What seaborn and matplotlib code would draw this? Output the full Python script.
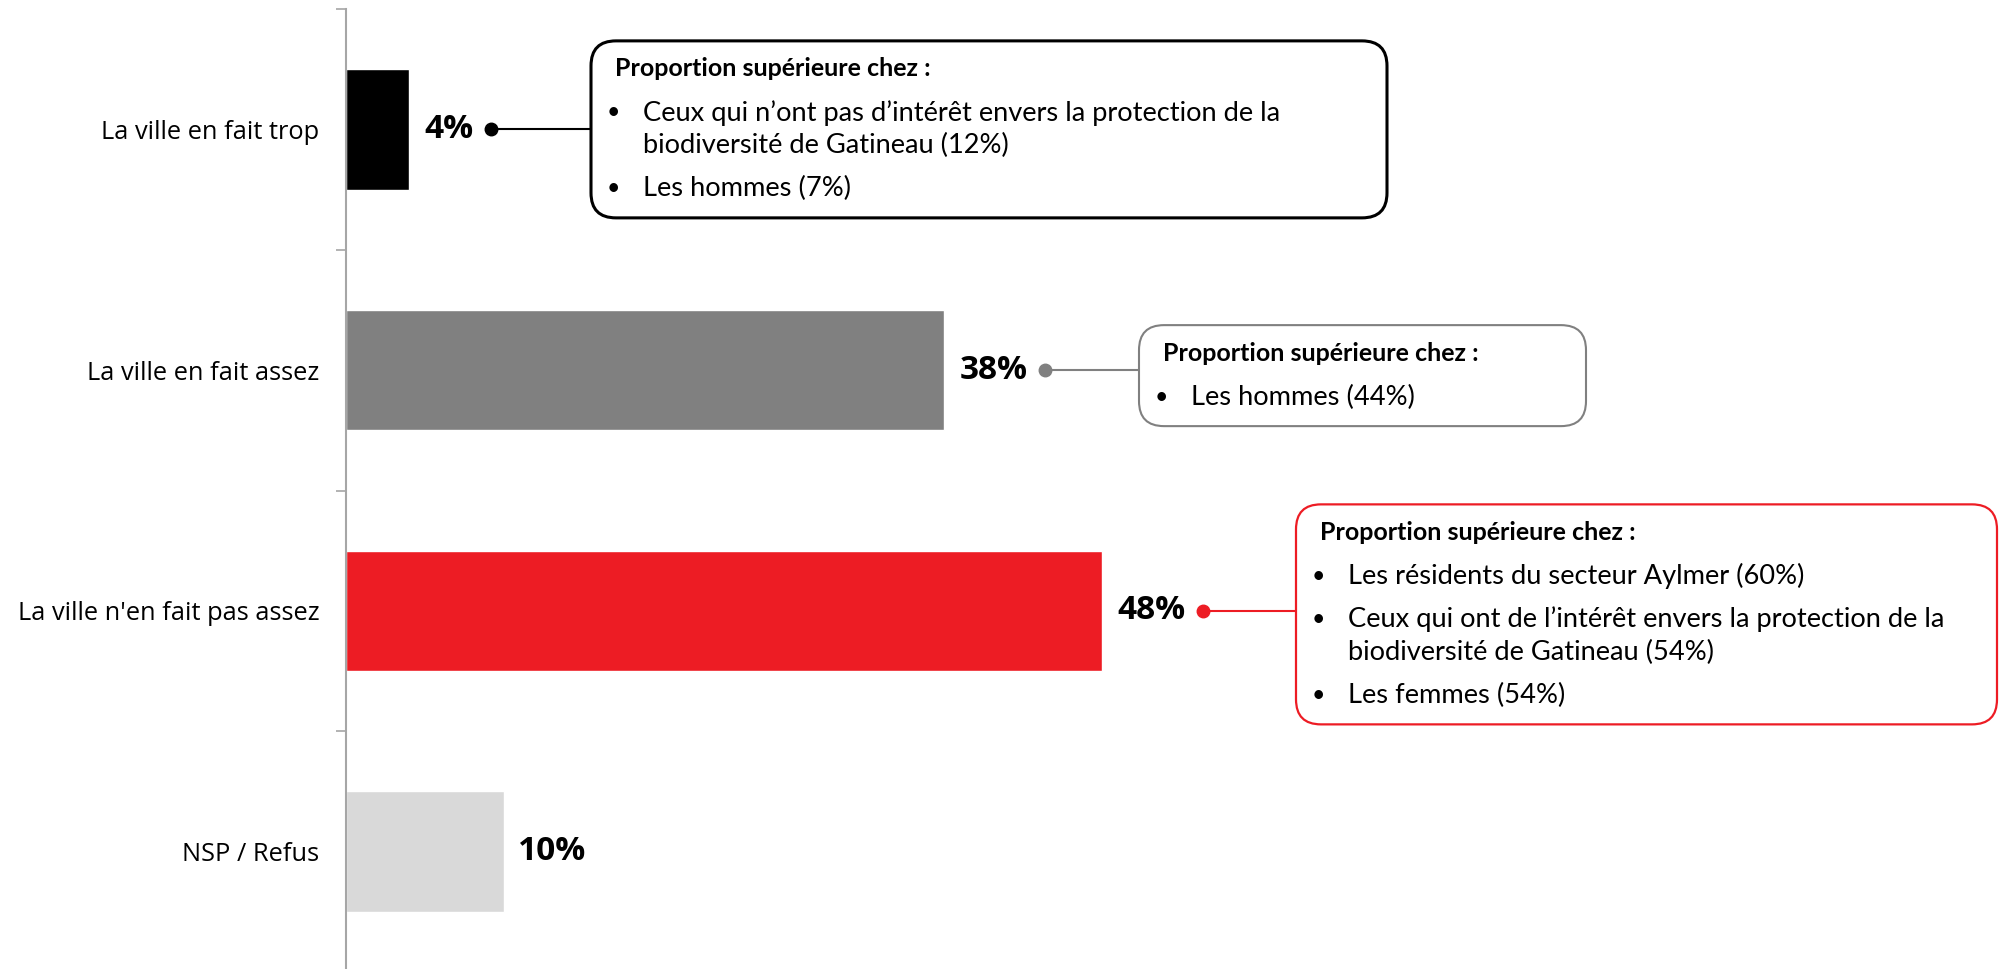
import matplotlib
matplotlib.use("Agg")
import matplotlib.pyplot as plt
import seaborn as sns
import pandas as pd
from matplotlib.patches import FancyBboxPatch
from matplotlib.ticker import FixedLocator

# Data
categories = ["La ville en fait trop", "La ville en fait assez",
              "La ville n'en fait pas assez", "NSP / Refus"]
values = [4, 38, 48, 10]
value_labels = ["4%", "38%", "48%", "10%"]
bar_colors = ["#000000", "#808080", "#ED1C24", "#D9D9D9"]

callout_header = "Proportion supérieure chez :"
callout_trop = [["Ceux qui n’ont pas d’intérêt envers la protection de la",
                 "biodiversité de Gatineau (12%)"],
                ["Les hommes (7%)"]]
callout_assez = [["Les hommes (44%)"]]
callout_pas_assez = [["Les résidents du secteur Aylmer (60%)"],
                     ["Ceux qui ont de l’intérêt envers la protection de la",
                      "biodiversité de Gatineau (54%)"],
                     ["Les femmes (54%)"]]

df = pd.DataFrame({"categorie": categories, "pct": values})

sns.set_theme(style="white")
plt.rcParams["font.family"] = ["Open Sans", "DejaVu Sans"]

fig = plt.figure(figsize=(20, 9.69), dpi=100)
ax = fig.add_axes([346 / 2000, -3 / 969, 1575 / 2000, 963 / 969])

sns.barplot(data=df, x="pct", y="categorie", hue="categorie", palette=bar_colors,
            width=0.5, orient="h", legend=False, saturation=1, ax=ax)

ax.set_xlim(0, 100)
ax.set_ylim(3.5, -0.5)
ax.set_xlabel("")
ax.set_ylabel("")
ax.set_xticks([])

# axis styling
axis_grey = "#A6A6A6"
for s in ["top", "right", "bottom"]:
    ax.spines[s].set_visible(False)
ax.spines["left"].set_color(axis_grey)
ax.spines["left"].set_linewidth(1.5)
ax.yaxis.set_minor_locator(FixedLocator([-0.5, 0.5, 1.5, 2.5, 3.5]))
ax.tick_params(axis="y", which="major", left=True, length=0, pad=19,
               labelsize=18.3, labelcolor="black")
ax.tick_params(axis="y", which="minor", left=True, length=7, width=1.2,
               color=axis_grey, direction="out")

# value labels
texts = []
for i, (v, lab) in enumerate(zip(values, value_labels)):
    t = ax.text(v + 0.95, i, lab, ha="left", va="center", fontsize=24,
                fontweight="bold", color="black")
    texts.append(t)

fig.canvas.draw()
renderer = fig.canvas.get_renderer()
ppx = ax.bbox.width / 100   # pixels per % on x
ppy = ax.bbox.height / 4    # pixels per category on y

callout_font = ["Lato", "DejaVu Sans"]
fs = 19.6
fs_header = 18


def draw_callout(idx, items, left, right, top_px, color, lw):
    # dot just after value label
    bb = texts[idx].get_window_extent(renderer)
    label_end = ax.transData.inverted().transform((bb.x1, bb.y0))[0]
    dot_x = label_end + 18 / ppx
    ax.plot([dot_x, left], [idx, idx], color=color, lw=1.5, clip_on=False, zorder=3)
    ax.plot(dot_x, idx, "o", ms=9, color=color, clip_on=False, zorder=4)

    # line positions (px from top of box)
    ys = [28]
    rows = [("header", callout_header)]
    y = 28
    for b, item in enumerate(items):
        y += 44 if b == 0 else 43
        for w, line in enumerate(item):
            if w > 0:
                y += 33
            rows.append(("bullet" if w == 0 else "wrap", line))
            ys.append(y)
    height = ys[-1] + 29

    top = idx + top_px / ppy
    box = FancyBboxPatch((left, top), right - left, height / ppy,
                         boxstyle=f"round,pad=0,rounding_size={25 / ppx}",
                         mutation_aspect=ppx / ppy, facecolor="white",
                         edgecolor=color, lw=lw, clip_on=False, zorder=3)
    ax.add_patch(box)

    for (kind, txt), yy in zip(rows, ys):
        yd = top + yy / ppy
        if kind == "header":
            ax.text(left + 24 / ppx, yd, txt, ha="left", va="center",
                    fontsize=fs_header, fontweight="bold", family=callout_font,
                    color="black", clip_on=False, zorder=5)
        else:
            if kind == "bullet":
                ax.text(left + 22 / ppx, yd, "•", ha="center", va="center",
                        fontsize=fs * 0.85, family=callout_font, color="black",
                        clip_on=False, zorder=5)
            ax.text(left + 52 / ppx, yd, txt, ha="left", va="center", fontsize=fs,
                    family=callout_font, color="black", clip_on=False, zorder=5)


draw_callout(0, callout_trop, (591 - 346) / ppx, (1387 - 346) / ppx, -88.5,
             "#000000", 2.2)
draw_callout(1, callout_assez, (1139 - 346) / ppx, (1586 - 346) / ppx, -45,
             "#808080", 1.5)
draw_callout(2, callout_pas_assez, (1296 - 346) / ppx, (1997 - 346) / ppx, -106.5,
             "#ED1C24", 1.6)

fig.savefig("out.png", dpi=100)
